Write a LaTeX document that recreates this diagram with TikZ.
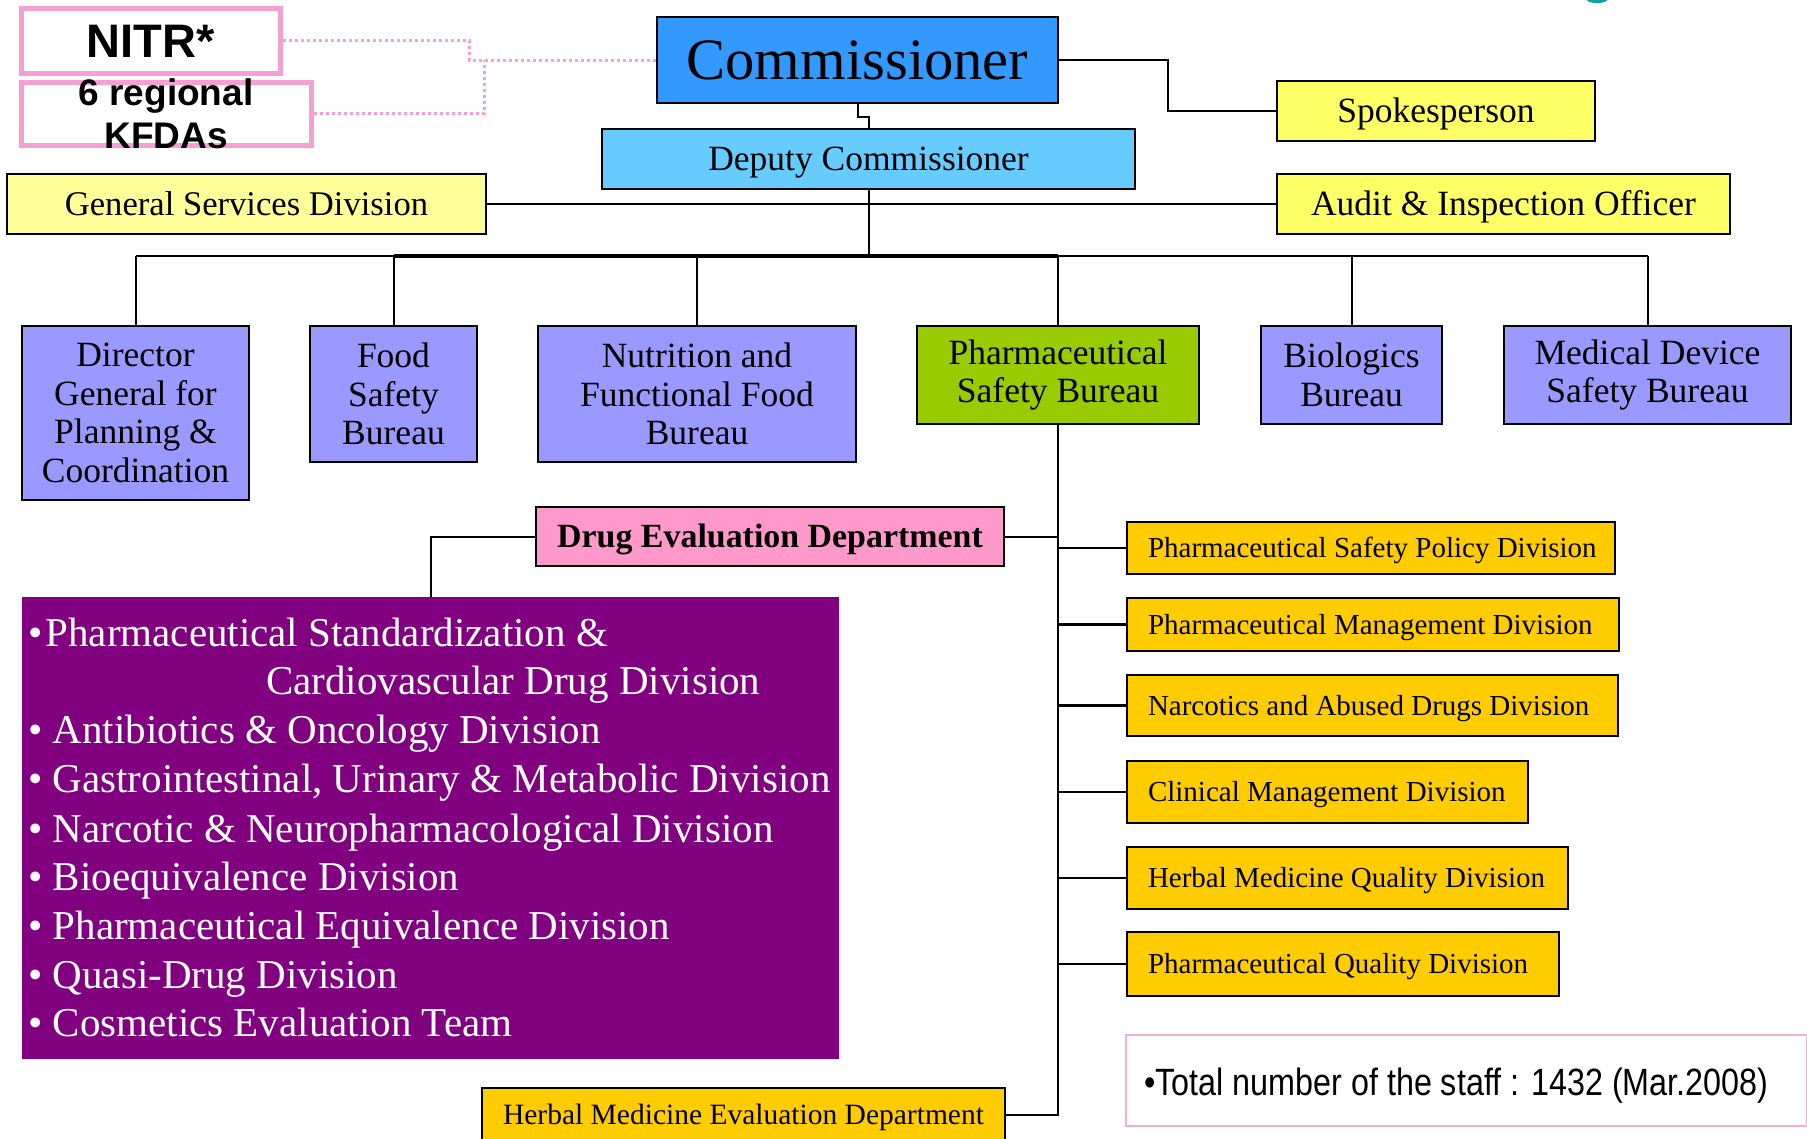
\documentclass[tikz,border=0pt]{standalone}
\usepackage{fontspec}
\setmainfont{Liberation Serif}
\newfontfamily\arialfont{Liberation Sans}
\newfontfamily\narrowfont[FakeStretch=0.85]{Liberation Sans}
\definecolor{comblue}{HTML}{3399FF}
\definecolor{depblue}{HTML}{66CCFF}
\definecolor{yel}{HTML}{FFFF66}
\definecolor{paleyel}{HTML}{FFFF99}
\definecolor{bureau}{HTML}{9999FF}
\definecolor{psbgreen}{HTML}{99CC00}
\definecolor{drugpink}{HTML}{FF99CC}
\definecolor{deeppurple}{HTML}{800080}
\definecolor{divy}{HTML}{FFCC00}
\definecolor{pinkline}{HTML}{F4A0D2}
\definecolor{lightpink}{HTML}{EDB0D8}
\definecolor{tealmark}{HTML}{10A0A0}
\begin{document}
\begin{tikzpicture}[x=1pt,y=-1pt,
  box/.style={draw=black, line width=2pt, inner sep=0pt, align=center},
  mainfs/.style={font=\fontsize{35.5}{38.4}\selectfont},
  oneline/.style={text height=#1, text depth=0pt},
  divbox/.style={draw=black, line width=2pt, fill=divy, inner xsep=21pt, inner ysep=0pt, anchor=west,
                 text height=19.1pt, text depth=0pt, font=\fontsize{29}{32}\selectfont},
  ptext/.style={anchor=base west, text=white, inner sep=0pt, font=\fontsize{41}{48}\selectfont},
  conn/.style={line width=2pt},
  pinkdot/.style={draw=pinkline, line width=3pt, dash pattern=on 3pt off 3pt}
]
\useasboundingbox (0,0) rectangle (1807,1138);
\clip (0,0) rectangle (1807,1138);

% top-left outside units
\node[box, draw=pinkline, line width=5pt, minimum width=259pt, minimum height=65pt, oneline=34pt,
      font=\arialfont\bfseries\fontsize{47}{50}\selectfont] (nitr) at (150.5,40.5) {NITR*};
\node[box, draw=pinkline, line width=5pt, minimum width=290pt, minimum height=63pt,
      label={[align=center, inner sep=0pt, font=\arialfont\bfseries\fontsize{37}{43}\selectfont]center:6 regional\\KFDAs}] (kfda) at (166,113.5) {};

% top
\node[box, fill=comblue, minimum width=401pt, minimum height=86pt, oneline=38.7pt, font=\fontsize{58.6}{62}\selectfont] (comm) at (857.5,60) {Commissioner};
\node[box, fill=yel, minimum width=318pt, minimum height=60pt, oneline=23.4pt, mainfs] (spokes) at (1436,111) {Spokesperson};
\node[box, fill=depblue, minimum width=533pt, minimum height=60pt, oneline=23.4pt, mainfs] (deputy) at (868.5,159) {Deputy Commissioner};
\node[box, fill=paleyel, minimum width=479pt, minimum height=60pt, oneline=22.8pt, font=\fontsize{34.6}{38}\selectfont] (gsd) at (246.5,204) {General Services Division};
\node[box, fill=yel, minimum width=453pt, minimum height=60pt, oneline=23.4pt, mainfs] (audit) at (1503.5,204) {Audit \& Inspection Officer};

% bureaus
\node[box, fill=bureau, minimum width=227pt, minimum height=174pt, mainfs] (dg) at (135.5,413) {Director\\General for\\Planning \&\\Coordination};
\node[box, fill=bureau, minimum width=167pt, minimum height=136pt, mainfs] (food) at (393.5,394) {Food\\Safety\\Bureau};
\node[box, fill=bureau, minimum width=318pt, minimum height=136pt, mainfs] (nutr) at (697,394) {Nutrition and\\Functional Food\\Bureau};
\node[box, fill=psbgreen, minimum width=282pt, minimum height=98pt, mainfs] (psb) at (1058,375) {Pharmaceutical\\Safety Bureau};
\node[box, fill=bureau, minimum width=181pt, minimum height=98pt, mainfs] (bio) at (1351.5,375) {Biologics\\Bureau};
\node[box, fill=bureau, minimum width=287pt, minimum height=98pt, mainfs] (mdev) at (1647.5,375) {Medical Device\\Safety Bureau};

% drug evaluation department
\node[box, fill=drugpink, minimum width=468pt, minimum height=59pt, oneline=22.9pt, font=\bfseries\fontsize{33.9}{36}\selectfont] (drug) at (770,536.5) {Drug Evaluation Department};
\node[fill=deeppurple, draw=none, inner sep=0pt, minimum width=817pt, minimum height=462pt] (purple) at (430.5,828) {};
\node[ptext] (p1) at (28,646) {\textbullet\hspace{3pt}Pharmaceutical Standardization \&};
\node[ptext] (p2) at (266,694) {Cardiovascular Drug Division};
\node[ptext] (p3) at (28,743) {\textbullet\ Antibiotics \& Oncology Division};
\node[ptext] (p4) at (28,792) {\textbullet\ Gastrointestinal, Urinary \& Metabolic Division};
\node[ptext] (p5) at (28,842) {\textbullet\ Narcotic \& Neuropharmacological Division};
\node[ptext] (p6) at (28,890) {\textbullet\ Bioequivalence Division};
\node[ptext] (p7) at (28,939) {\textbullet\ Pharmaceutical Equivalence Division};
\node[ptext] (p8) at (28,988) {\textbullet\ Quasi-Drug Division};
\node[ptext] (p9) at (28,1036) {\textbullet\ Cosmetics Evaluation Team};

% divisions
\node[divbox, minimum height=52pt] (psp) at (1126,548) {\makebox[446pt][l]{Pharmaceutical Safety Policy Division}};
\node[divbox, minimum height=53pt] (pm) at (1126,624.5) {\makebox[450pt][l]{Pharmaceutical Management Division}};
\node[divbox, minimum height=61pt] (nad) at (1126,705.5) {\makebox[449pt][l]{Narcotics and Abused Drugs Division}};
\node[divbox, minimum height=62pt] (cm) at (1126,792) {\makebox[359pt][l]{Clinical Management Division}};
\node[divbox, minimum height=62pt] (hmq) at (1126,878) {\makebox[399pt][l]{Herbal Medicine Quality Division}};
\node[divbox, minimum height=64pt] (pq) at (1126,964) {\makebox[390pt][l]{Pharmaceutical Quality Division}};

\node[box, fill=divy, minimum width=523pt, minimum height=54pt, oneline=19.5pt, font=\fontsize{29.5}{32}\selectfont] (herbal) at (743.5,1115) {Herbal Medicine Evaluation Department};

\node[draw=lightpink, line width=2pt, fill=white, inner sep=0pt, minimum width=681pt, minimum height=91pt] (total) at (1466.5,1080.5) {};
\node[anchor=west, inner sep=0pt, text height=27pt, text depth=0pt, font=\narrowfont\fontsize{38}{40}\selectfont] (totaltext) at (1144,1082) {\textbullet Total number of the staff : 1432 (Mar.2008)};

% connectors
\draw[pinkdot] (nitr.east) -| (469,60) -- (comm.west);
\draw[pinkdot] (kfda.east) -| (484,60);
\draw[conn] (comm.east) -- ++(109,0) |- (spokes.west);
\draw[conn] (comm.south) -- ++(0,13) -| (deputy.north);
\draw[conn] (gsd.east) -- (audit.west);
\coordinate (bus) at (868.5,256);
\draw[conn] (deputy.south) -- (bus);
\draw[conn] (dg.north |- bus) -- (mdev.north |- bus);
\draw[line width=3.5pt] (food.north |- bus) -- (psb.north |- bus);
\foreach \n in {dg,food,nutr,psb,bio,mdev} \draw[conn] (\n.north |- bus) -- (\n.north);
\draw[line width=2.5pt] (psb.south) |- (herbal.east);
\foreach \n in {psp,pm,nad,cm,hmq,pq} \draw[line width=2.5pt] (psb.south |- \n.west) -- (\n.west);
\draw[conn] (drug.east) -- (drug.east -| psb.south);
\draw[conn] (drug.west) -| (purple.north);

\fill[tealmark] (1597,0) ellipse (10 and 3);
\end{tikzpicture}
\end{document}
